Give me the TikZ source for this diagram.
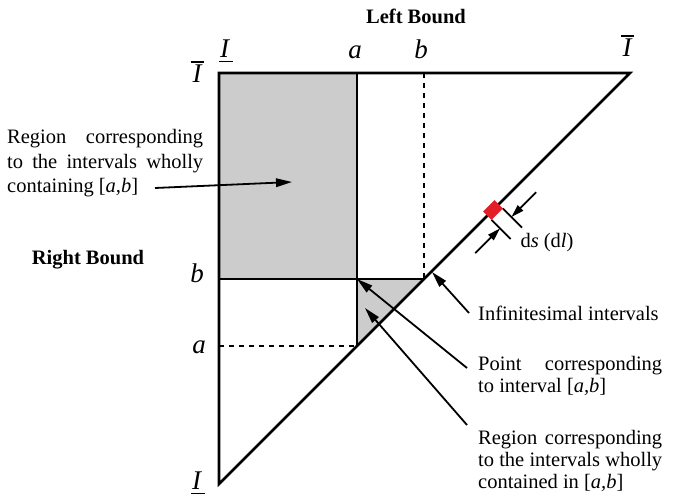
\documentclass[tikz,border=0pt]{standalone}
\usepackage{fontspec}
\setmainfont{Liberation Serif}
\usetikzlibrary{arrows.meta}
\definecolor{regiongrey}{RGB}{204,204,204}
\definecolor{boxred}{RGB}{226,30,38}
\newcommand\myOverI{\vbox{\hrule height 1.3pt width 13pt\kern2.6pt\hbox{\kern2pt\itshape I}}}
\newcommand\myUnderI{\vtop{\hbox{\kern1pt\itshape I}\kern3pt\hrule height 1.3pt width 14pt}}
\begin{document}
\begin{tikzpicture}[x=1pt,y=-1pt,
  frame/.style={line width=2.6pt,line join=miter},
  dashline/.style={line width=2.5pt,dash pattern=on 5pt off 5pt},
  conn/.style={line width=1.8pt,-{Triangle[length=16pt,width=8.5pt]}},
  smallconn/.style={line width=1.8pt,-{Triangle[length=13pt,width=7.5pt]}},
  txt/.style={font=\fontsize{20.5}{24.5}\selectfont,inner sep=0pt,anchor=base west},
  boldlab/.style={font=\fontsize{20.5}{24}\selectfont\bfseries,inner sep=0pt,anchor=base},
  lab/.style={font=\fontsize{27}{30}\selectfont\itshape,inner sep=0pt,anchor=base}]
\useasboundingbox (0,0) rectangle (673,502);

% main frame coordinates
\coordinate (O) at (219,484);
\coordinate (TL) at (219,73);
\coordinate (TR) at (630,73);
\coordinate (Atop) at (357,73);
\coordinate (Btop) at (424,73);
\coordinate (P) at (357,279);
\coordinate (BB) at (424,279);
\coordinate (AA) at (357,346);
\coordinate (Bl) at (219,279);
\coordinate (Al) at (219,346);

% grey regions
\fill[regiongrey] (TL) rectangle (P);
\fill[regiongrey] (P) -- (BB) -- (AA) -- cycle;

% lines
\draw[dashline] (Btop) -- (BB);
\draw[dashline] (Al) -- (AA);
\draw[frame] (Atop) -- (AA);
\draw[frame] (Bl) -- (BB);
\draw[frame] (TL) -- (TR) -- (O) -- cycle;

% red infinitesimal interval with dimension marks
\begin{scope}[shift={(493,210)},x={(0.7071pt,0.7071pt)},y={(0.7071pt,-0.7071pt)}]
  \fill[boxred] (-8,-6) -- (8,-6) -- (8,6) -- (-8,6) -- cycle;
  \draw[line width=1.8pt] (8,6) -- (8,33);
  \draw[line width=1.8pt] (-8,6) -- (-8,33);
  \coordinate (dsA1) at (43,18);
  \coordinate (dsA2) at (8,18);
  \coordinate (dsB1) at (-43,18);
  \coordinate (dsB2) at (-8,18);
\end{scope}
\draw[smallconn] (dsA1) -- (dsA2);
\draw[smallconn] (dsB1) -- (dsB2);
\node[txt,anchor=base] (ds) at (547,248) {d\textit{s} (d\textit{l})};

% axis labels
\node[boldlab] (leftbound) at (416,24) {Left Bound};
\node[boldlab] (rightbound) at (88,265) {Right Bound};
\node[lab] (Itop) at (226,58) {\myUnderI};
\node[lab] (atop) at (355,59) {a};
\node[lab] (btop) at (421,59) {b};
\node[lab] (Iright) at (627,57) {\myOverI};
\node[lab] (Ileft) at (197,83) {\myOverI};
\node[lab] (bleft) at (197,283) {b};
\node[lab] (aleft) at (199,354) {a};
\node[lab] (Ibot) at (198,490) {\myUnderI};

% left explanatory text
\node[txt] (regA) at (7,144) {\parbox[t]{196pt}{\fontsize{20.5}{24.5}\selectfont
  \makebox[196pt][s]{Region corresponding}\\
  \makebox[196pt][s]{to the intervals wholly}\\
  containing [\textit{a,b}]}};
\coordinate (regAs) at (155,188);
\coordinate (regAt) at (292,182);
\draw[conn] (regAs) -- (regAt);

% right explanatory texts
\node[txt] (inf) at (478,321) {Infinitesimal intervals};
\coordinate (infs) at (469,313);
\coordinate (inft) at (432,272);
\draw[conn] (infs) -- (inft);

\node[txt] (pointtxt) at (478,371) {\parbox[t]{184pt}{\fontsize{20.5}{21.7}\selectfont
  \makebox[184pt][s]{Point corresponding}\\
  to interval [\textit{a,b}]}};
\coordinate (pts) at (467,368);
\draw[conn] (pts) -- (P);

\node[txt] (regB) at (478,445) {\parbox[t]{184pt}{\fontsize{20.5}{21.7}\selectfont
  \makebox[184pt][s]{Region corresponding}\\
  \makebox[184pt][s]{to the intervals wholly}\\
  contained in [\textit{a,b}]}};
\coordinate (regBs) at (467,425);
\coordinate (regBt) at (365,308);
\draw[conn] (regBs) -- (regBt);
\end{tikzpicture}
\end{document}
